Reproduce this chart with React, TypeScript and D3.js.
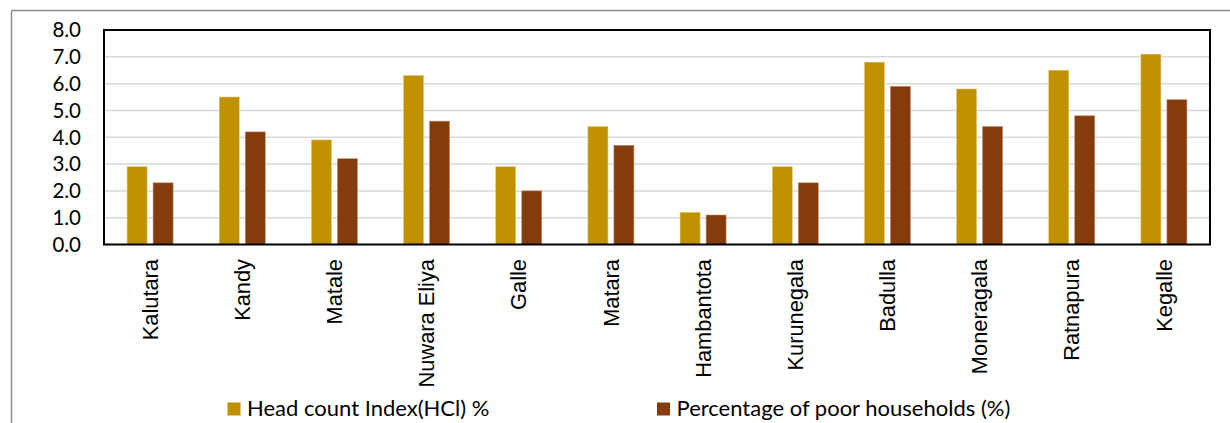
import React from "react";
import * as d3 from "d3";

const categories = ["Kalutara","Kandy","Matale","Nuwara Eliya","Galle","Matara","Hambantota","Kurunegala","Badulla","Moneragala","Ratnapura","Kegalle"];
const hciValues = [2.9,5.5,3.9,6.3,2.9,4.4,1.2,2.9,6.8,5.8,6.5,7.1];
const poorValues = [2.3,4.2,3.2,4.6,2.0,3.7,1.1,2.3,5.9,4.4,4.8,5.4];
const seriesNames = ["Head count Index(HCl) %","Percentage of poor households (%)"];
const seriesColors = ["#BF9000","#843C0C"];
const yTicks = [0,1,2,3,4,5,6,7,8];

export default function App() {
  const W = 1230, H = 423;
  const left = 104, right = 1210, top = 30, bottom = 244.5;
  const x = d3.scaleBand<string>().domain(categories).range([left, right]).paddingInner(0).paddingOuter(0);
  const y = d3.scaleLinear().domain([0, 8]).range([bottom, top]);
  const barW = 20, gap = 6;
  const series = [hciValues, poorValues];
  const tickFont = "Lato, 'Open Sans', sans-serif";
  const catFont = "'Liberation Sans', Arial, sans-serif";
  return (
    <svg width={W} height={H} style={{ position: "absolute", left: 0, top: 0, background: "#fff" }}>
      <rect x={0} y={0} width={W} height={H} fill="#fff" />
      {/* outer border */}
      <line x1={11.5} y1={10.5} x2={W} y2={10.5} stroke="#8c8c8c" strokeWidth={1.5} />
      <line x1={11.5} y1={10.5} x2={11.5} y2={H} stroke="#8c8c8c" strokeWidth={1.5} />
      {/* gridlines */}
      {yTicks.slice(1, -1).map(t => (
        <line key={t} x1={left} x2={right} y1={y(t)} y2={y(t)} stroke="#d9d9d9" strokeWidth={1.5} />
      ))}
      {/* bars */}
      {categories.map((c, i) => {
        const cx = (x(c) as number) + x.bandwidth() / 2;
        return series.map((vals, s) => {
          const bx = cx - gap / 2 - barW + s * (barW + gap);
          return (
            <rect key={c + s} x={bx} y={y(vals[i])} width={barW} height={bottom - y(vals[i])}
              fill={seriesColors[s]} stroke={s === 0 ? "#e6c870" : "#c49070"} strokeWidth={0.6} />
          );
        });
      })}
      {/* frame */}
      <rect x={left} y={top} width={right - left} height={bottom - top} fill="none" stroke="#000" strokeWidth={2} />
      {/* y tick labels */}
      {yTicks.map(t => (
        <text key={t} x={81} y={y(t)} dy="0.36em" textAnchor="end" fontFamily={tickFont} fontSize={20.5} fill="#000">
          {t.toFixed(1)}
        </text>
      ))}
      {/* category labels */}
      {categories.map(c => {
        const cx = (x(c) as number) + x.bandwidth() / 2;
        return (
          <text key={c} transform={`translate(${cx},259) rotate(-90)`} dy="0.35em" textAnchor="end"
            fontFamily={catFont} fontSize={21.8} fill="#000">
            {c}
          </text>
        );
      })}
      {/* legend */}
      {[227.5, 657].map((lx, s) => (
        <g key={s}>
          <rect x={lx} y={402.5} width={13} height={13} fill={seriesColors[s]} />
          <text x={lx + 19.5} y={416} fontFamily={tickFont} fontSize={22} fill="#000">{seriesNames[s]}</text>
        </g>
      ))}
    </svg>
  );
}
